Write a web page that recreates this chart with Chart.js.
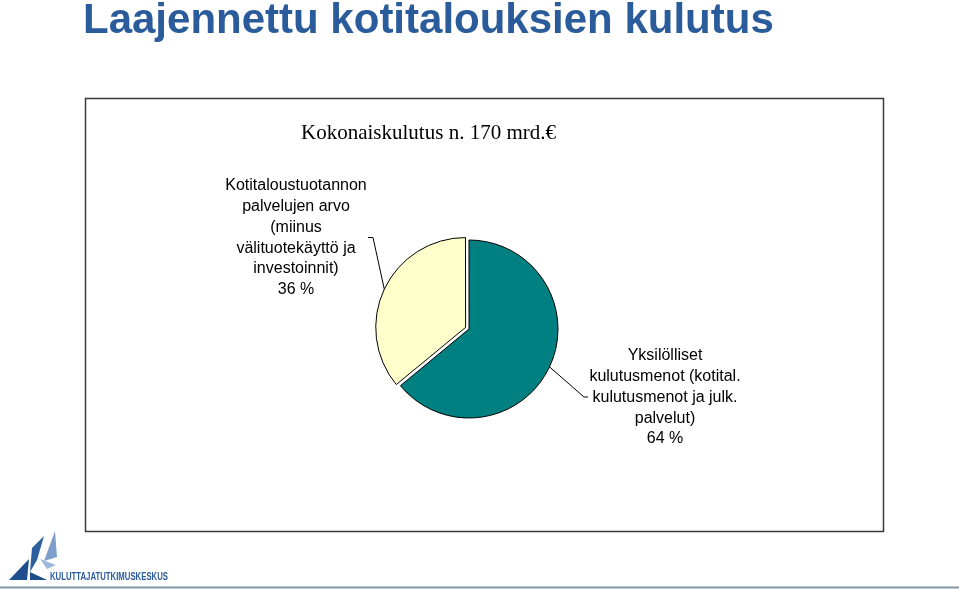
<!DOCTYPE html>
<html>
<head>
<meta charset="utf-8">
<script src="https://cdn.jsdelivr.net/npm/chart.js@4.4.0/dist/chart.umd.min.js"></script>
<style>
  html, body { margin: 0; padding: 0; background: #fff; }
  canvas { display: block; }
</style>
</head>
<body>
<canvas id="c" width="959" height="589"></canvas>
<script>
// ---- data ----
const pageTitle = 'Laajennettu kotitalouksien kulutus';
const chartSubtitle = 'Kokonaiskulutus n. 170 mrd.€';
const categories = [
  'Yksilölliset kulutusmenot (kotital. kulutusmenot ja julk. palvelut)',
  'Kotitaloustuotannon palvelujen arvo (miinus välituotekäyttö ja investoinnit)'
];
const values = [64, 36];
const labelLinesTeal = ['Yksilölliset', 'kulutusmenot (kotital.', 'kulutusmenot ja julk.', 'palvelut)'];
const labelLinesYellow = ['Kotitaloustuotannon', 'palvelujen arvo', '(miinus', 'välituotekäyttö ja', 'investoinnit)'];
const sliceColors = ['#008080', '#FFFFCC'];
const logoText = 'KULUTTAJATUTKIMUSKESKUS';

const labelLines = [labelLinesTeal, labelLinesYellow];
// label layout: text centre x, first line y, leader elbow, leader end
const labelLayout = [
  { cx: 665, y0: 356, elbow: [584, 397], end: [588, 397] },
  { cx: 296, y0: 186, elbow: [373, 237.5], end: [368, 237.5] }
];

const decor = {
  id: 'decor',
  beforeDraw(chart) {
    const ctx = chart.ctx;
    ctx.save();
    ctx.fillStyle = '#fff';
    ctx.fillRect(0, 0, chart.width, chart.height);
    // title
    ctx.fillStyle = '#2a5b9b';
    ctx.font = 'bold 42px "Liberation Sans", Arial, sans-serif';
    ctx.textBaseline = 'alphabetic';
    ctx.textAlign = 'left';
    ctx.fillText(pageTitle, 83, 33);
    // frame
    ctx.strokeStyle = '#3a3a3a';
    ctx.lineWidth = 1.5;
    ctx.strokeRect(85.5, 98.5, 798, 433);
    // subtitle
    ctx.fillStyle = '#000';
    ctx.font = '21px "Liberation Serif", "Times New Roman", serif';
    ctx.textAlign = 'center';
    ctx.fillText(chartSubtitle, 428.5, 139);
    // bottom line
    ctx.strokeStyle = '#8095a8';
    ctx.lineWidth = 2;
    ctx.beginPath();
    ctx.moveTo(0, 587.5);
    ctx.lineTo(chart.width, 587.5);
    ctx.stroke();
    // logo
    const polys = [
      ['#1f4e8c', [[9, 580], [29, 559], [27, 580]]],
      ['#2c5f9e', [[30, 572], [32, 548], [44, 536], [37, 560]]],
      ['#7e9fcc', [[44, 561], [55, 531], [57, 557]]],
      ['#1f4e8c', [[30, 572], [47, 580], [30, 580]]],
      ['#9fb8db', [[40, 559], [56, 565], [47, 569]]]
    ];
    polys.forEach(([col, pts]) => {
      ctx.fillStyle = col;
      ctx.beginPath();
      pts.forEach((p, i) => i ? ctx.lineTo(p[0], p[1]) : ctx.moveTo(p[0], p[1]));
      ctx.closePath();
      ctx.fill();
    });
    ctx.fillStyle = '#2a5b9b';
    ctx.font = 'bold 11px "Liberation Sans", Arial, sans-serif';
    ctx.textAlign = 'left';
    ctx.fillText(logoText, 50, 580, 118);
    ctx.restore();
  },
  afterDatasetsDraw(chart) {
    const ctx = chart.ctx;
    const meta = chart.getDatasetMeta(0);
    ctx.save();
    meta.data.forEach((arc, i) => {
      const p = arc.getProps(['x', 'y', 'startAngle', 'endAngle', 'outerRadius', 'circumference'], true);
      const mid = (p.startAngle + p.endAngle) / 2;
      const off = (arc.options.offset || 0) / 4;
      const fix = 1 - Math.sin(Math.min(Math.PI, p.circumference || 0));
      const t = off * (1 + fix);
      const ax = p.x + Math.cos(mid) * (t + p.outerRadius);
      const ay = p.y + Math.sin(mid) * (t + p.outerRadius);
      const L = labelLayout[i];
      ctx.strokeStyle = '#000';
      ctx.lineWidth = 1;
      ctx.beginPath();
      ctx.moveTo(ax, ay);
      ctx.lineTo(L.elbow[0], L.elbow[1]);
      ctx.lineTo(L.end[0], L.end[1]);
      ctx.stroke();
      ctx.fillStyle = '#000';
      ctx.font = '16px "Liberation Sans", Arial, sans-serif';
      ctx.textAlign = 'center';
      ctx.textBaseline = 'middle';
      const lines = labelLines[i].concat([values[i] + ' %']);
      lines.forEach((s, k) => ctx.fillText(s, L.cx, L.y0 + k * 20.7));
    });
    ctx.restore();
  }
};

new Chart(document.getElementById('c'), {
  type: 'pie',
  data: {
    labels: categories,
    datasets: [{
      data: values,
      backgroundColor: sliceColors,
      borderColor: '#000',
      borderWidth: 1,
      offset: [0, 15],
      radius: 89
    }]
  },
  options: {
    responsive: false,
    animation: false,
    devicePixelRatio: 1,
    events: [],
    layout: { padding: { left: 300, right: 321, top: 200, bottom: 131 } },
    plugins: { legend: { display: false }, tooltip: { enabled: false }, title: { display: false } }
  },
  plugins: [decor]
});
</script>
</body>
</html>
